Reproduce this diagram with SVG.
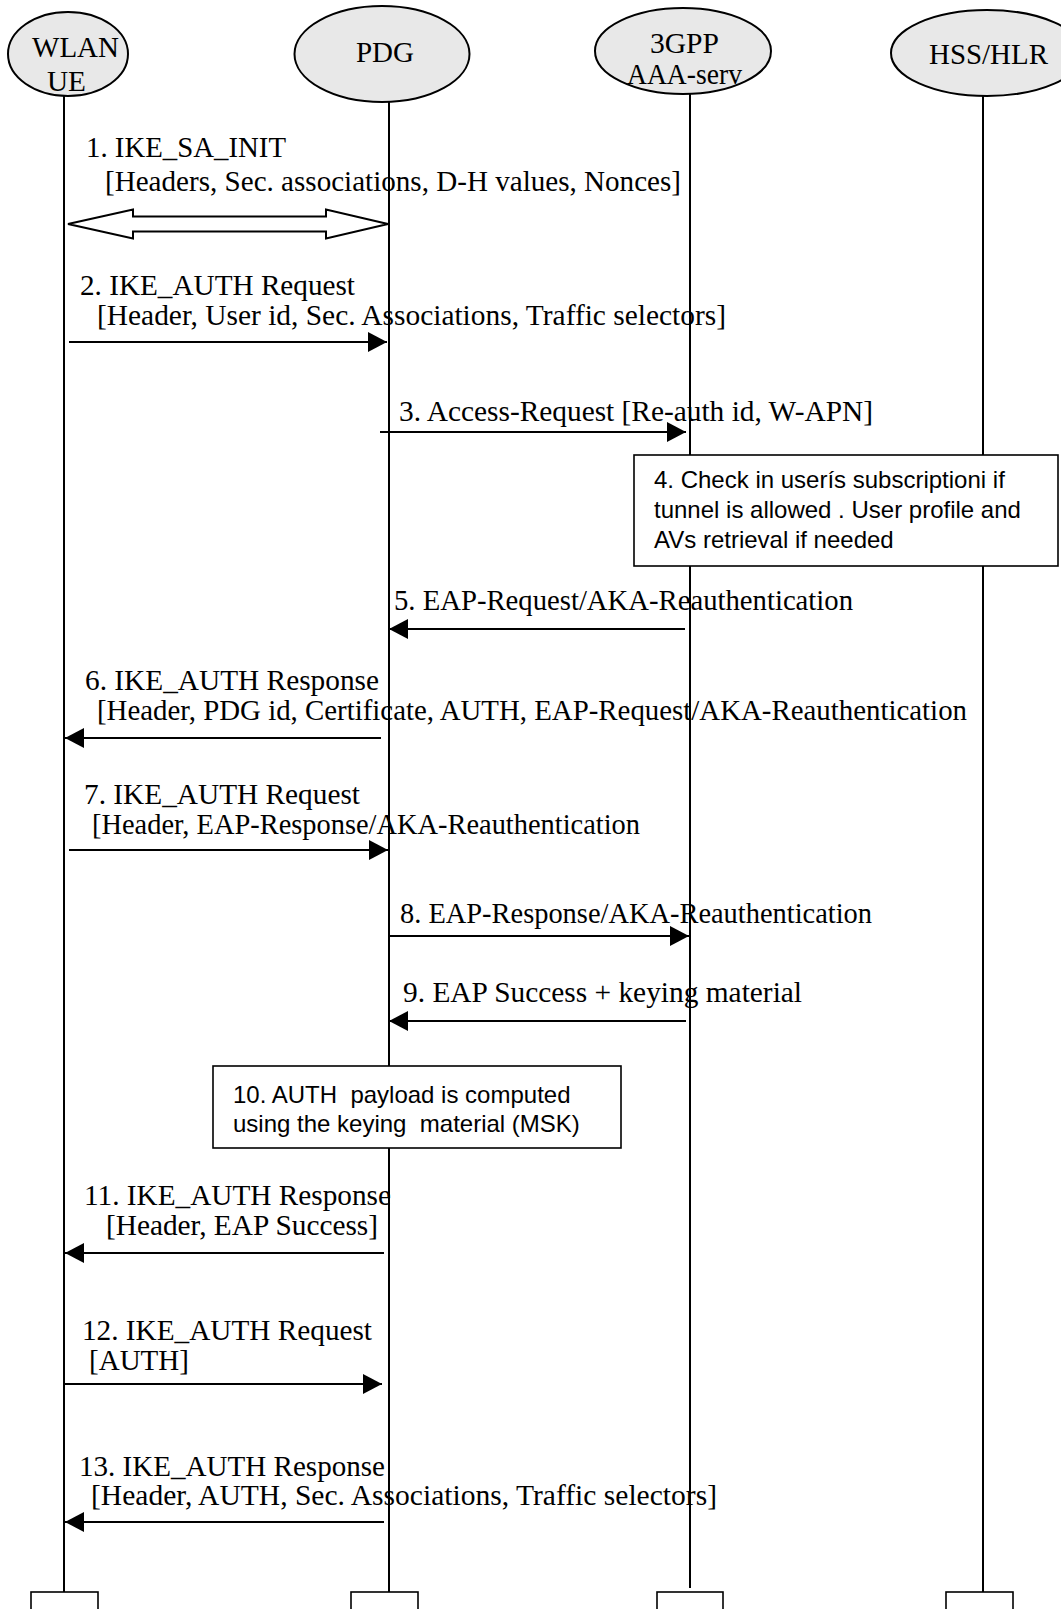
<svg xmlns="http://www.w3.org/2000/svg" width="1061" height="1609" viewBox="0 0 1061 1609">
<style>
.bg{fill:#ffffff}
.ell{fill:#e8e8e8;stroke:#000;stroke-width:2}
.life{stroke:#000;stroke-width:2;fill:none}
.msg{stroke:#000;stroke-width:2;fill:none;marker-end:url(#ah)}
.box{fill:#fff;stroke:#000;stroke-width:1.6}
.t{font-family:"Liberation Serif","Times New Roman",serif;font-size:29px;fill:#000}
.a{font-family:"Liberation Sans",Arial,sans-serif;font-size:24px;fill:#000;white-space:pre}
</style>
<defs>
<marker id="ah" markerUnits="userSpaceOnUse" markerWidth="20" markerHeight="20" refX="19" refY="10" orient="auto">
<path d="M0,0 L19,10 L0,20 z" fill="#000"/>
</marker>
</defs>
<rect class="bg" x="0" y="0" width="1061" height="1609"/>

<g id="lifelines">
<line class="life" x1="64" y1="95" x2="64" y2="1592"/>
<line class="life" x1="389" y1="102" x2="389" y2="1592"/>
<line class="life" x1="690" y1="94" x2="690" y2="1588"/>
<line class="life" x1="983" y1="96" x2="983" y2="1592"/>
</g>

<g id="node-wlan-ue">
<ellipse class="ell" cx="68" cy="54" rx="60" ry="42"/>
<text class="t" x="32" y="57" textLength="87" lengthAdjust="spacingAndGlyphs">WLAN</text>
<text class="t" x="47" y="91" textLength="39" lengthAdjust="spacingAndGlyphs">UE</text>
</g>
<g id="node-pdg">
<ellipse class="ell" cx="382" cy="54" rx="87.5" ry="48"/>
<text class="t" x="356" y="62" textLength="58" lengthAdjust="spacingAndGlyphs">PDG</text>
</g>
<g id="node-aaa">
<ellipse class="ell" cx="683" cy="51" rx="88" ry="43"/>
<text class="t" x="650" y="53" textLength="69" lengthAdjust="spacingAndGlyphs">3GPP</text>
<text class="t" x="627" y="84" textLength="115" lengthAdjust="spacingAndGlyphs">AAA-serv</text>
</g>
<g id="node-hss">
<ellipse class="ell" cx="987" cy="53" rx="96" ry="43"/>
<text class="t" x="929" y="64" textLength="119" lengthAdjust="spacingAndGlyphs">HSS/HLR</text>
</g>

<g id="connectors">
<polygon points="68,224 133,209.5 133,216.5 326,216.5 326,209.5 388,224 326,238.5 326,231.5 133,231.5 133,238.5" fill="#fff" stroke="#000" stroke-width="2"/>
<line class="msg" x1="69" y1="342" x2="387" y2="342"/>
<line class="msg" x1="380" y1="432" x2="686" y2="432"/>
<line class="msg" x1="685" y1="629" x2="389" y2="629"/>
<line class="msg" x1="381" y1="738" x2="65" y2="738"/>
<line class="msg" x1="69" y1="850" x2="388" y2="850"/>
<line class="msg" x1="389" y1="936" x2="689" y2="936"/>
<line class="msg" x1="686" y1="1021" x2="389" y2="1021"/>
<line class="msg" x1="384" y1="1253" x2="65" y2="1253"/>
<line class="msg" x1="64" y1="1384" x2="382" y2="1384"/>
<line class="msg" x1="384" y1="1522" x2="65" y2="1522"/>
</g>

<g id="labels">
<text class="t" x="86" y="157" textLength="200" lengthAdjust="spacingAndGlyphs">1. IKE_SA_INIT</text>
<text class="t" x="105" y="191" textLength="576" lengthAdjust="spacingAndGlyphs">[Headers, Sec. associations, D-H values, Nonces]</text>
<text class="t" x="80" y="295" textLength="275" lengthAdjust="spacingAndGlyphs">2. IKE_AUTH Request</text>
<text class="t" x="97" y="325" textLength="629" lengthAdjust="spacingAndGlyphs">[Header, User id, Sec. Associations, Traffic selectors]</text>
<text class="t" x="399" y="421" textLength="474" lengthAdjust="spacingAndGlyphs">3. Access-Request [Re-auth id, W-APN]</text>
<text class="t" x="394" y="610" textLength="459" lengthAdjust="spacingAndGlyphs">5. EAP-Request/AKA-Reauthentication</text>
<text class="t" x="85" y="690" textLength="294" lengthAdjust="spacingAndGlyphs">6. IKE_AUTH Response</text>
<text class="t" x="97" y="720" textLength="870" lengthAdjust="spacingAndGlyphs">[Header, PDG id, Certificate, AUTH, EAP-Request/AKA-Reauthentication</text>
<text class="t" x="84" y="804" textLength="276" lengthAdjust="spacingAndGlyphs">7. IKE_AUTH Request</text>
<text class="t" x="92" y="834" textLength="548" lengthAdjust="spacingAndGlyphs">[Header, EAP-Response/AKA-Reauthentication</text>
<text class="t" x="400" y="923" textLength="472" lengthAdjust="spacingAndGlyphs">8. EAP-Response/AKA-Reauthentication</text>
<text class="t" x="403" y="1002" textLength="399" lengthAdjust="spacingAndGlyphs">9. EAP Success + keying material</text>
<text class="t" x="84" y="1205" textLength="307" lengthAdjust="spacingAndGlyphs">11. IKE_AUTH Response</text>
<text class="t" x="106" y="1235" textLength="272" lengthAdjust="spacingAndGlyphs">[Header, EAP Success]</text>
<text class="t" x="82" y="1340" textLength="290" lengthAdjust="spacingAndGlyphs">12. IKE_AUTH Request</text>
<text class="t" x="89" y="1370" textLength="100" lengthAdjust="spacingAndGlyphs">[AUTH]</text>
<text class="t" x="79" y="1476" textLength="306" lengthAdjust="spacingAndGlyphs">13. IKE_AUTH Response</text>
<text class="t" x="91" y="1505" textLength="626" lengthAdjust="spacingAndGlyphs">[Header, AUTH, Sec. Associations, Traffic selectors]</text>
</g>

<g id="note-4">
<rect class="box" x="634" y="455" width="424" height="111"/>
<text class="a" x="654" y="488">4. Check in userís subscriptioni if</text>
<text class="a" x="654" y="518">tunnel is allowed . User profile and</text>
<text class="a" x="654" y="548">AVs retrieval if needed</text>
</g>

<g id="note-10">
<rect class="box" x="213" y="1066" width="408" height="82"/>
<text class="a" x="233" y="1103">10. AUTH  payload is computed</text>
<text class="a" x="233" y="1132">using the keying  material (MSK)</text>
</g>

<g id="bottom-boxes">
<rect class="box" x="31" y="1592" width="67" height="30" stroke-width="2"/>
<rect class="box" x="351" y="1592" width="67" height="30" stroke-width="2"/>
<rect class="box" x="657" y="1592" width="66" height="30" stroke-width="2"/>
<rect class="box" x="946" y="1592" width="67" height="30" stroke-width="2"/>
</g>
</svg>
